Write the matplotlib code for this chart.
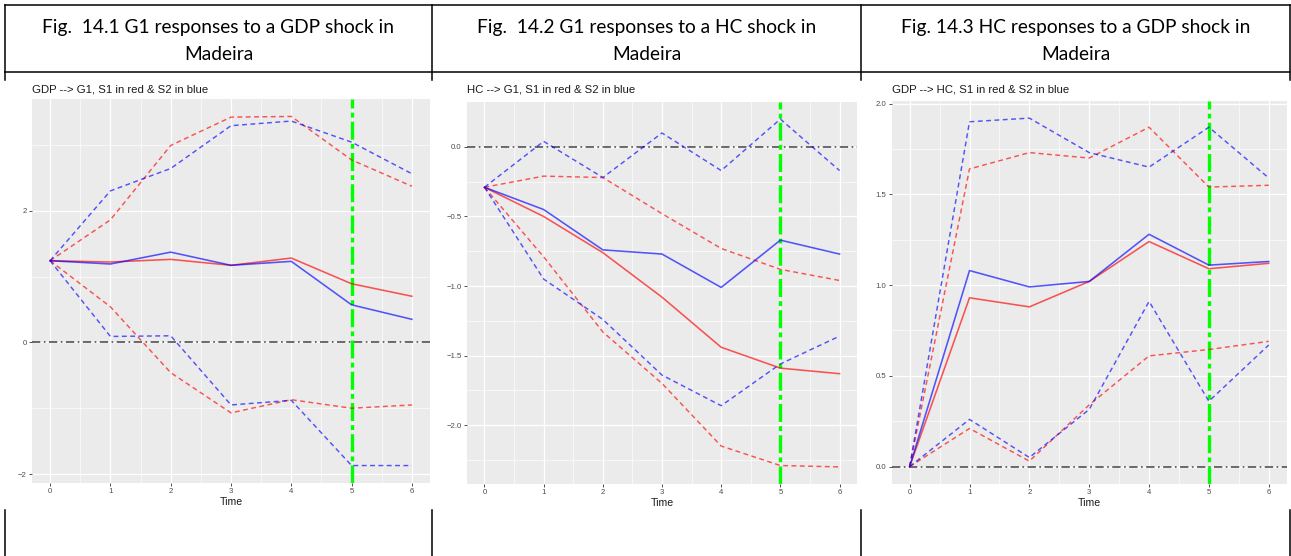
import matplotlib
matplotlib.use("Agg")
import matplotlib.pyplot as plt
from matplotlib.lines import Line2D
import numpy as np

plt.rcParams['lines.scale_dashes'] = False
plt.rcParams['axes.unicode_minus'] = True

W, H = 1291, 556

# ---------------- data ----------------
time = [0, 1, 2, 3, 4, 5, 6]

captions = [
    ("Fig.  14.1 G1 responses to a GDP shock in", "Madeira"),
    ("Fig.  14.2 G1 responses to a HC shock in", "Madeira"),
    ("Fig. 14.3 HC responses to a GDP shock in", "Madeira"),
]
titles = [
    "GDP --> G1, S1 in red & S2 in blue",
    "HC --> G1, S1 in red & S2 in blue",
    "GDP --> HC, S1 in red & S2 in blue",
]

# Panel 1: GDP -> G1
p1_s1 = [1.24, 1.22, 1.26, 1.17, 1.28, 0.89, 0.70]
p1_s2 = [1.24, 1.19, 1.37, 1.17, 1.23, 0.57, 0.35]
p1_s1_up = [1.24, 1.86, 2.99, 3.42, 3.43, 2.77, 2.37]
p1_s1_lo = [1.24, 0.54, -0.46, -1.07, -0.87, -1.00, -0.95]
p1_s2_up = [1.24, 2.30, 2.64, 3.29, 3.36, 3.04, 2.56]
p1_s2_lo = [1.24, 0.09, 0.10, -0.95, -0.88, -1.87, -1.87]

# Panel 2: HC -> G1
p2_s1 = [-0.29, -0.50, -0.76, -1.08, -1.44, -1.59, -1.63]
p2_s2 = [-0.29, -0.45, -0.74, -0.77, -1.01, -0.67, -0.77]
p2_s1_up = [-0.29, -0.21, -0.22, -0.48, -0.73, -0.88, -0.96]
p2_s1_lo = [-0.29, -0.79, -1.33, -1.70, -2.15, -2.29, -2.30]
p2_s2_up = [-0.29, 0.04, -0.22, 0.10, -0.17, 0.20, -0.17]
p2_s2_lo = [-0.29, -0.95, -1.24, -1.64, -1.86, -1.56, -1.36]

# Panel 3: GDP -> HC
p3_s1 = [0.0, 0.93, 0.88, 1.02, 1.24, 1.09, 1.12]
p3_s2 = [0.0, 1.08, 0.99, 1.02, 1.28, 1.11, 1.13]
p3_s1_up = [0.0, 1.64, 1.73, 1.70, 1.87, 1.54, 1.55]
p3_s1_lo = [0.0, 0.21, 0.03, 0.34, 0.61, 0.645, 0.69]
p3_s2_up = [0.0, 1.90, 1.92, 1.73, 1.65, 1.87, 1.59]
p3_s2_lo = [0.0, 0.26, 0.05, 0.315, 0.91, 0.36, 0.67]

yticks = [
    [-2, 0, 2],
    [-2.0, -1.5, -1.0, -0.5, 0.0],
    [0.0, 0.5, 1.0, 1.5, 2.0],
]
yminor = [
    [-1, 1, 3],
    [-2.25, -1.75, -1.25, -0.75, -0.25],
    [0.25, 0.75, 1.25, 1.75],
]
ytick_fmt = ["{:.0f}", "{:.1f}", "{:.1f}"]
shock_time = 5

panels = [
    (p1_s1, p1_s2, p1_s1_up, p1_s1_lo, p1_s2_up, p1_s2_lo),
    (p2_s1, p2_s2, p2_s1_up, p2_s1_lo, p2_s2_up, p2_s2_lo),
    (p3_s1, p3_s2, p3_s1_up, p3_s1_lo, p3_s2_up, p3_s2_lo),
]

# ---------------- layout (pixels) ----------------
axes_px = [
    (32, 99, 430, 483),
    (466.7, 101.7, 857.3, 484.3),
    (891.7, 100.7, 1286.7, 484.0),
]
col_edges = [5, 432, 861, 1290]

fig = plt.figure(figsize=(W / 100, H / 100), dpi=100)
fig.patch.set_facecolor("white")


def fx(x):
    return x / W


def fy(y):
    return 1 - y / H


# table lines
lw_tab = 1.1
fig.add_artist(Line2D([fx(col_edges[0]), fx(col_edges[-1])], [fy(5), fy(5)], color="black", lw=lw_tab))
fig.add_artist(Line2D([fx(col_edges[0]), fx(col_edges[-1])], [fy(72), fy(72)], color="black", lw=lw_tab))
for xe in col_edges:
    fig.add_artist(Line2D([fx(xe), fx(xe)], [fy(5), fy(80)], color="black", lw=lw_tab))
    fig.add_artist(Line2D([fx(xe), fx(xe)], [fy(510), fy(556)], color="black", lw=lw_tab))

# captions
for i, (l1, l2) in enumerate(captions):
    cx = (col_edges[i] + col_edges[i + 1]) / 2
    fig.text(fx(cx), fy(27), l1, ha="center", va="center", fontsize=13.8, family="Lato", color="black")
    fig.text(fx(cx), fy(54), l2, ha="center", va="center", fontsize=13.8, family="Lato", color="black")

red = (1.0, 0.0, 0.0, 0.65)
blue = (0.0, 0.0, 1.0, 0.65)
dash = (0, (3.5, 2.5))

for i, (x0, y0, x1, y1) in enumerate(axes_px):
    ax = fig.add_axes([fx(x0), fy(y1), fx(x1 - x0), (y1 - y0) / H])
    ax.set_facecolor("#EBEBEB")
    for s in ax.spines.values():
        s.set_visible(False)
    s1, s2, s1u, s1l, s2u, s2l = panels[i]

    ax.axhline(0, color="#444444", lw=1.1, linestyle=(0, (6, 2.5, 1.2, 2.5)), zorder=3)
    ax.axvline(shock_time, color="#00FF00", lw=2.4, linestyle=(0, (13, 3, 3.5, 3)), zorder=4)

    ax.plot(time, s1u, color=red, lw=1.05, linestyle=dash, zorder=5)
    ax.plot(time, s1l, color=red, lw=1.05, linestyle=dash, zorder=5)
    ax.plot(time, s2u, color=blue, lw=1.05, linestyle=dash, zorder=5)
    ax.plot(time, s2l, color=blue, lw=1.05, linestyle=dash, zorder=5)
    ax.plot(time, s1, color=red, lw=1.15, zorder=6)
    ax.plot(time, s2, color=blue, lw=1.15, zorder=6)

    allv = np.concatenate([s1, s2, s1u, s1l, s2u, s2l, [0]])
    lo, hi = allv.min(), allv.max()
    pad = 0.05 * (hi - lo)
    ax.set_ylim(lo - pad, hi + pad)
    ax.set_xlim(-0.3, 6.3)

    ax.set_xticks(time)
    ax.set_xticks([0.5, 1.5, 2.5, 3.5, 4.5, 5.5], minor=True)
    ax.set_yticks(yticks[i])
    ax.set_yticklabels([ytick_fmt[i].format(v).replace("-", "\u2212") for v in yticks[i]])
    ax.set_yticks(yminor[i], minor=True)
    ax.grid(which="major", color="white", lw=0.9, zorder=0)
    ax.grid(which="minor", color="white", lw=0.45, zorder=0)
    ax.set_axisbelow(True)
    ax.tick_params(which="major", length=2.2, width=0.6, color="#333333",
                   labelsize=5.6, labelcolor="#4D4D4D", pad=1.5)
    ax.tick_params(which="minor", length=0)
    for lab in ax.get_xticklabels() + ax.get_yticklabels():
        lab.set_family("Liberation Sans")
    ax.set_xlabel("Time", fontsize=7.6, family="Liberation Sans", color="#1A1A1A", labelpad=1.2)
    fig.text(fx(x0), fy(90), titles[i], ha="left", va="center", fontsize=8.2,
             family="Liberation Sans", color="#1A1A1A")

fig.savefig("out.png", dpi=100, facecolor="white")
